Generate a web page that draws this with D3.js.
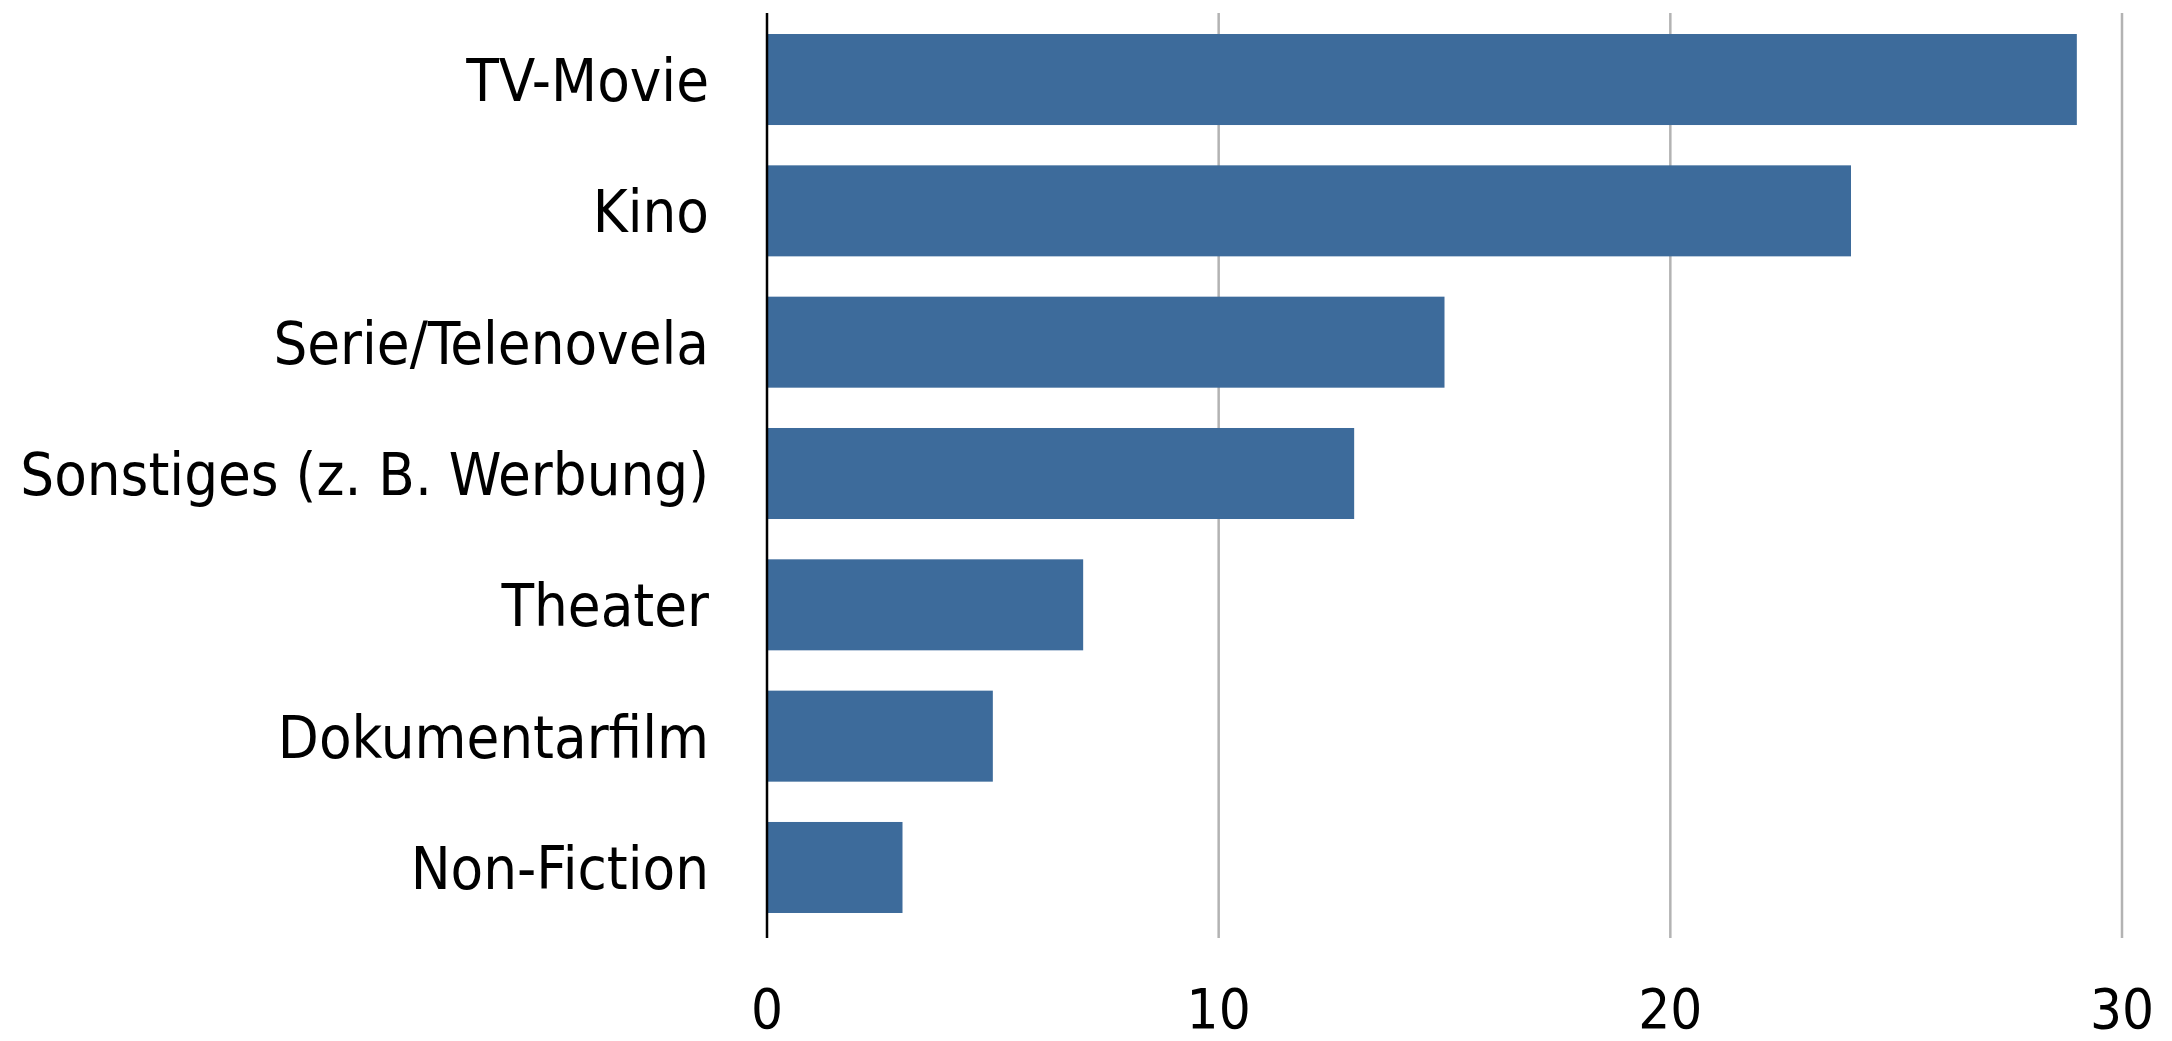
<!DOCTYPE html>
<html>
<head>
<meta charset="utf-8">
<script src="https://cdn.jsdelivr.net/npm/d3@7"></script>
<style>
  html, body { margin: 0; padding: 0; background: #fff; }
  svg { display: block; }
  text { font-family: "Liberation Sans Narrow", "DejaVu Sans Condensed", sans-serif; fill: #000; }
</style>
</head>
<body>
<svg id="chart" width="2172" height="1041"></svg>
<script>
// Categories, top to bottom
const categories = [
  "TV-Movie",
  "Kino",
  "Serie/Telenovela",
  "Sonstiges (z. B. Werbung)",
  "Theater",
  "Dokumentarfilm",
  "Non-Fiction"
];
// Values per category
const values = [29, 24, 15, 13, 7, 5, 3];
// Value axis ticks
const tickValues = [0, 10, 20, 30];
const tickLabels = ["0", "10", "20", "30"];

(function () {
  const svg = d3.select("#chart");
  const m = { left: 767, right: 2122, top: 13, bottom: 938 };

  const x = d3.scaleLinear().domain([0, 30]).range([m.left, m.right]);
  const y = d3.scaleBand().domain(categories).range([m.top, m.top + 921])
    .paddingInner(0.307).paddingOuter(0.16);

  // Vertical gridlines
  svg.append("g")
    .selectAll("line")
    .data(tickValues.filter(d => d > 0))
    .join("line")
    .attr("x1", d => x(d)).attr("x2", d => x(d))
    .attr("y1", m.top).attr("y2", m.bottom)
    .attr("stroke", "#b3b3b3")
    .attr("stroke-width", 2.5);

  // Bars
  svg.append("g")
    .selectAll("rect")
    .data(values)
    .join("rect")
    .attr("x", x(0))
    .attr("y", (d, i) => y(categories[i]))
    .attr("width", d => x(d) - x(0))
    .attr("height", y.bandwidth())
    .attr("fill", "#3d6b9b");

  // Category axis line
  svg.append("line")
    .attr("x1", x(0)).attr("x2", x(0))
    .attr("y1", m.top).attr("y2", m.bottom)
    .attr("stroke", "#000")
    .attr("stroke-width", 2.5);

  // Category labels
  svg.append("g")
    .selectAll("text")
    .data(categories)
    .join("text")
    .attr("x", 709)
    .attr("y", d => y(d) + y.bandwidth() / 2)
    .attr("dy", "0.36em")
    .attr("text-anchor", "end")
    .attr("font-size", 59.3)
    .text(d => d);

  // Value tick labels
  svg.append("g")
    .selectAll("text")
    .data(tickValues)
    .join("text")
    .attr("x", d => x(d))
    .attr("y", 1028)
    .attr("text-anchor", "middle")
    .attr("font-size", 56)
    .text((d, i) => tickLabels[i]);
})();
</script>
</body>
</html>
